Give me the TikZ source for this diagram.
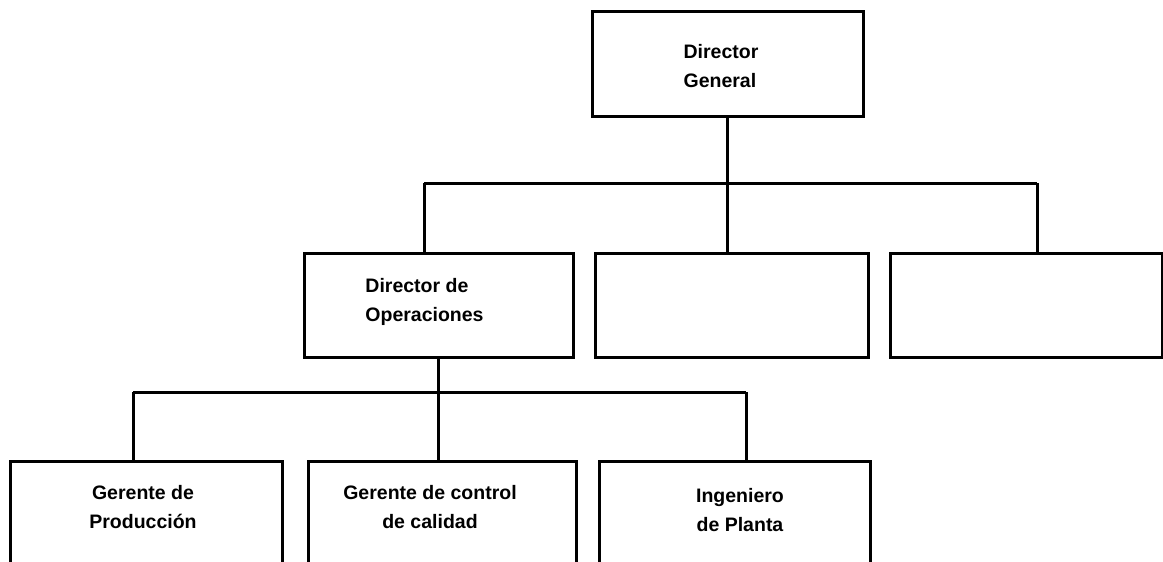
\documentclass[tikz,border=0pt]{standalone}
\usepackage{fontspec}
\setmainfont{Liberation Sans}
\usetikzlibrary{calc}
\begin{document}
\begin{tikzpicture}[x=1pt,y=-1pt,
  box/.style={draw=black,line width=3pt,minimum width=#1,inner sep=0pt},
  orgline/.style={draw=black,line width=3pt},
  lbl/.style={font=\bfseries\fontsize{19.5}{29}\selectfont,inner sep=0pt}]
\useasboundingbox[fill=white] (0,0) rectangle (1163,562);
% boxes
\node[box=271pt,minimum height=105pt] (dg) at (727.5,63.5) {};
\node[box=269pt,minimum height=104pt] (do) at (438.5,305) {};
\node[box=273pt,minimum height=104pt] (m2) at (731.5,305) {};
\node[box=272pt,minimum height=104pt] (m3) at (1026,305) {};
\node[box=272pt,minimum height=139pt] (b1) at (146,530.5) {};
\node[box=268pt,minimum height=139pt] (b2) at (442,530.5) {};
\node[box=271pt,minimum height=139pt] (b3) at (734.5,530.5) {};
% labels
\node[lbl,align=left] (tdg) at (721,66) {Director\\General};
\node[lbl,align=left] (tdo) at (424.5,302) {Director de\\Operaciones};
\node[lbl,align=center] (tb1) at (143,507) {Gerente de\\Producción};
\node[lbl,align=center] (tb2) at (430,507) {Gerente de control\\de calidad};
\node[lbl,align=center] (tb3) at (740,510) {Ingeniero\\de Planta};
% connectors level 1
\coordinate (busL) at (424,183);
\coordinate (busR) at (1037,183);
\draw[orgline] (busL) -- (busR);
\draw[orgline] (dg.south) -- (dg.south |- m2.north);
\draw[orgline] (busL) -- (busL |- do.north);
\draw[orgline] (busR) -- (busR |- m3.north);
% connectors level 2
\coordinate (bus2L) at (133,392);
\coordinate (bus2R) at (746,392);
\draw[orgline] (bus2L) -- (bus2R);
\draw[orgline] (do.south) -- (do.south |- b2.north);
\draw[orgline] (bus2L) -- (bus2L |- b1.north);
\draw[orgline] (bus2R) -- (bus2R |- b3.north);
\end{tikzpicture}
\end{document}
